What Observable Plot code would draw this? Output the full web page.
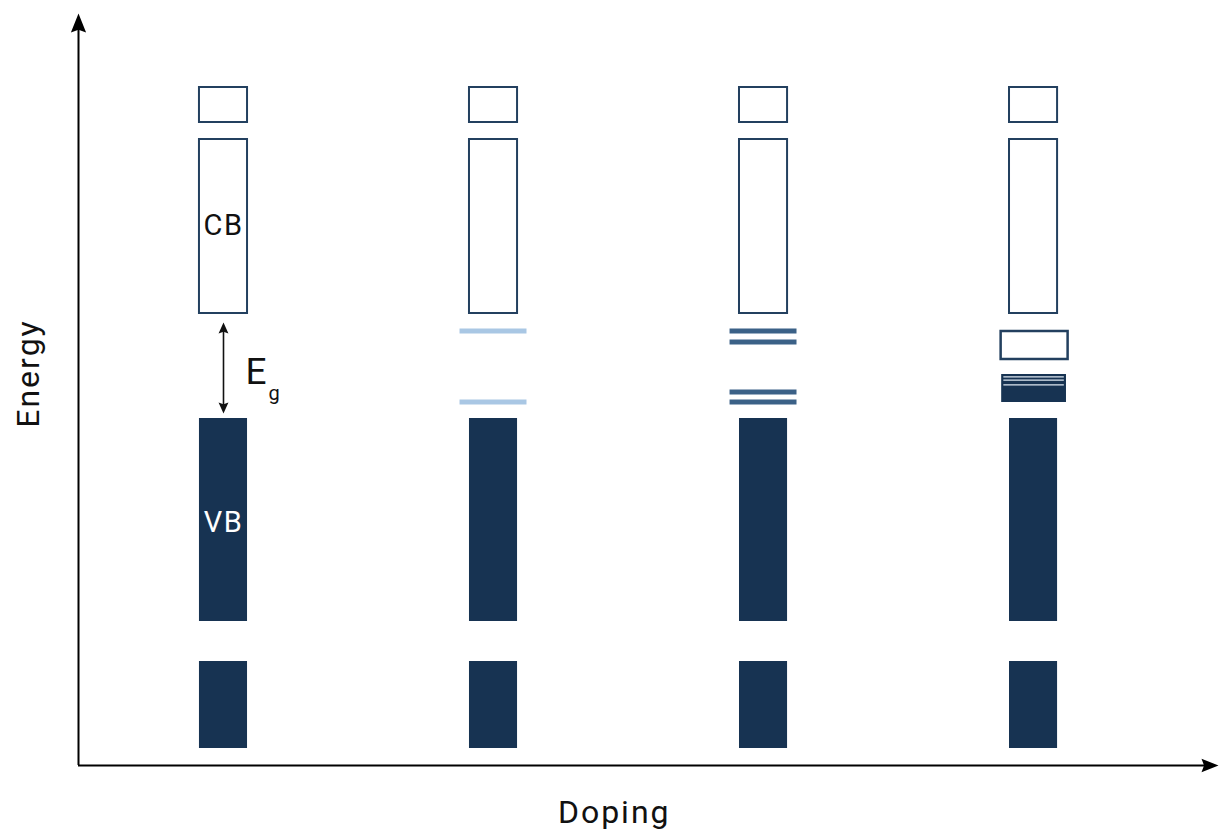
<!DOCTYPE html>
<html>
<head>
<meta charset="utf-8">
<script src="https://cdn.jsdelivr.net/npm/d3@7"></script>
<script src="https://cdn.jsdelivr.net/npm/@observablehq/plot@0.6"></script>
<style>
  html, body { margin: 0; padding: 0; background: #fff; }
  #chart svg { display: block; }
</style>
</head>
<body>
<div id="chart"></div>
<script>
// ---- data ----
const columns = [1, 2, 3, 4];                       // doping stages
const bandNames  = ["upper", "CB", "VB", "deep"];
const bandLow    = [64.3, 45.2, 14.4, 1.7];
const bandHigh   = [67.8, 62.6, 34.7, 10.4];
const bandFilled = [false, false, true, true];
const bandLabels = ["", "CB", "VB", ""];
const bandLabelY = [0, 54.0, 24.3, 0];

const levelsLight  = [43.45, 36.35];                 // stage 2 impurity levels
const levelsMedium = [43.45, 42.35, 37.35, 36.35];   // stage 3 impurity levels
const impBandEmpty = [40.6, 43.4];                   // stage 4 empty impurity band
const impBandFull  = [36.3, 39.1];                   // stage 4 filled impurity band
const impBandGaps  = [38.87, 38.53, 38.07];          // stage 4 unfilled states
const gapArrow     = [35.2, 44.3];                   // E_g arrow ends

const xDomain = [0.463, 4.685];
const yDomain = [0, 75.2];

// ---- styles ----
const NAVY = "#173352";
const EDGE = "#23405f";
const MID  = "#3b6187";
const LIGHT = "#a9c7e4";
const FONT = "Roboto, 'DejaVu Sans', sans-serif";
const barHalf = 0.089;
const lineHalf = 0.124;

// build tables
const bands = [];
for (const c of columns) {
  bandNames.forEach((n, i) => bands.push({c, name: n, lo: bandLow[i], hi: bandHigh[i], filled: bandFilled[i]}));
}
const labels = bandNames.map((n, i) => ({c: columns[0], text: bandLabels[i], y: bandLabelY[i], filled: bandFilled[i]})).filter(d => d.text);

const levels = [
  ...levelsLight.map(y => ({c: 2, y, color: LIGHT})),
  ...levelsMedium.map(y => ({c: 3, y, color: MID}))
];

// arrowhead symbol: tip at origin, pointing up
const arrowHead = (ratio) => ({
  draw(ctx, size) {
    const r = Math.sqrt(size / Math.PI);
    ctx.moveTo(0, 0);
    ctx.lineTo(r * ratio, r);
    ctx.lineTo(0, r * 0.85);
    ctx.lineTo(-r * ratio, r);
    ctx.closePath();
  }
});

const chart = Plot.plot({
  width: 1219,
  height: 834,
  marginLeft: 78,
  marginRight: 1,
  marginTop: 13,
  marginBottom: 69,
  x: {domain: xDomain, axis: null},
  y: {domain: yDomain, axis: null},
  style: {fontFamily: FONT, background: "#fff", overflow: "visible"},
  marks: [
    // bands
    Plot.rect(bands, {
      x1: d => d.c - barHalf, x2: d => d.c + barHalf,
      y1: "lo", y2: "hi",
      fill: d => d.filled ? NAVY : "#fff",
      stroke: d => d.filled ? NAVY : EDGE,
      strokeWidth: d => d.filled ? 0 : 2
    }),
    // stage 2/3 impurity levels
    Plot.ruleY(levels, {
      y: "y", x1: d => d.c - lineHalf, x2: d => d.c + lineHalf,
      stroke: "color", strokeWidth: 5
    }),
    // stage 4 impurity bands
    Plot.rect([{c: 4, lo: impBandEmpty[0], hi: impBandEmpty[1]}], {
      x1: d => d.c - lineHalf + 0.004, x2: d => d.c + lineHalf + 0.004, y1: "lo", y2: "hi",
      fill: "#fff", stroke: EDGE, strokeWidth: 2.5
    }),
    Plot.rect([{c: 4, lo: impBandFull[0], hi: impBandFull[1]}], {
      x1: d => d.c - lineHalf + 0.006, x2: d => d.c + lineHalf - 0.002, y1: "lo", y2: "hi",
      fill: NAVY
    }),
    Plot.ruleY(impBandGaps.map(y => ({c: 4, y})), {
      y: "y", x1: d => d.c - lineHalf + 0.014, x2: d => d.c + lineHalf - 0.01,
      stroke: "#dfe8f1", strokeWidth: 1.2
    }),
    // band labels
    Plot.text(labels, {
      x: "c", y: "y", text: "text",
      fill: d => d.filled ? "#fff" : "#111",
      fontSize: 29, fontFamily: FONT
    }),
    // E_g arrow
    Plot.ruleX([columns[0]], {x: d => d, y1: gapArrow[0] + 0.5, y2: gapArrow[1] - 0.5, stroke: "#111", strokeWidth: 1.6}),
    Plot.dot([gapArrow[1]], {x: columns[0], y: d => d, symbol: arrowHead(0.45), r: 11, fill: "#111", stroke: "none"}),
    Plot.dot([gapArrow[0]], {x: columns[0], y: d => d, symbol: arrowHead(0.45), r: 11, rotate: 180, fill: "#111", stroke: "none"}),
    Plot.text(["E"], {x: 1.12, y: 39.35, text: d => d, fontSize: 37, fill: "#111", fontFamily: FONT}),
    Plot.text(["g"], {x: 1.187, y: 37.2, text: d => d, fontSize: 20, fill: "#111", fontFamily: FONT}),
    // axes with arrowheads
    Plot.ruleX([xDomain[0]], {y1: 0, y2: yDomain[1] - 1.5, stroke: "#000", strokeWidth: 2}),
    Plot.ruleY([0], {x1: xDomain[0], x2: xDomain[1] - 0.05, stroke: "#000", strokeWidth: 2}),
    Plot.dot([0], {x: xDomain[0], y: yDomain[1], symbol: arrowHead(0.4), r: 19, fill: "#000", stroke: "none"}),
    Plot.dot([0], {x: xDomain[1], y: 0, symbol: arrowHead(0.4), r: 17, rotate: 90, fill: "#000", stroke: "none"}),
    // axis titles
    Plot.text(["Doping"], {x: 2.447, y: -4.75, text: d => d, fontSize: 32, fill: "#111", fontFamily: FONT}),
    Plot.text(["Energy"], {x: 0.278, y: 39.2, text: d => d, rotate: -90, fontSize: 32, fill: "#111", fontFamily: FONT})
  ]
});
// letter spacing for the lettered labels
d3.select(chart).selectAll("text").each(function() {
  const t = this.textContent;
  if (t === "Doping" || t === "Energy") this.style.letterSpacing = "2px";
  else if (t === "CB" || t === "VB") this.style.letterSpacing = "1.5px";
});
document.getElementById("chart").appendChild(chart);
</script>
</body>
</html>
